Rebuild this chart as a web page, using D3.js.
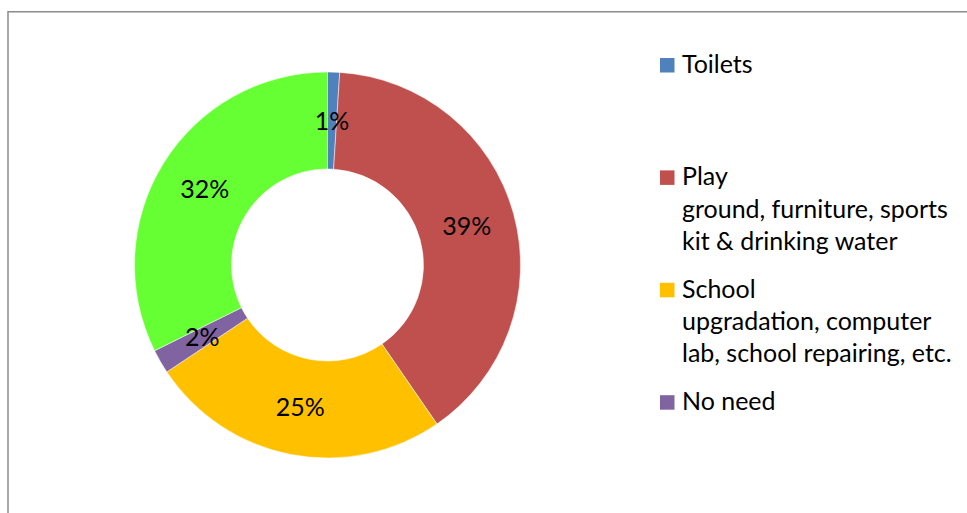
<!DOCTYPE html>
<html>
<head>
<meta charset="utf-8">
<script src="https://cdn.jsdelivr.net/npm/d3@7"></script>
<style>
  html, body { margin: 0; padding: 0; background: #fff; overflow: hidden; }
  text { font-family: Lato, "Open Sans", sans-serif; fill: #000; }
</style>
</head>
<body>
<svg id="chart" width="967" height="513"></svg>
<script>
// Survey responses: what the school needs most
const categories = [
  "Toilets",
  "Play ground, furniture, sports kit & drinking water",
  "School upgradation, computer lab, school repairing, etc.",
  "No need",
  "Others"
];
const legendLines = [
  ["Toilets"],
  ["Play", "ground, furniture, sports", "kit & drinking water"],
  ["School", "upgradation, computer", "lab, school repairing, etc."],
  ["No need"],
  ["Others"]
];
const values = [1, 39, 25, 2, 32];
const colors = ["#4F81BD", "#C0504D", "#FFC000", "#8064A2", "#66FF33"];

const W = 967, H = 513;
const svg = d3.select("#chart");

// chart area frame
svg.append("rect")
  .attr("x", 8).attr("y", 11.75)
  .attr("width", W + 20).attr("height", H + 20)
  .attr("fill", "none")
  .attr("stroke", "#8c8c8c")
  .attr("stroke-width", 1.5);

// pick a font size so the widest legend line has the intended width
const probe = svg.append("text").attr("font-size", 100).text("ground, furniture, sports");
const fontSize = 100 * 266 / probe.node().getComputedTextLength();
probe.remove();

const data = categories.map((c, i) => ({ name: c, value: values[i], color: colors[i], lines: legendLines[i] }));

const cx = 327.5, cy = 265, outerR = 193, innerR = 96;
const pie = d3.pie().value(d => d.value).sort(null);
const arc = d3.arc().innerRadius(innerR).outerRadius(outerR);
const arcs = pie(data);

const g = svg.append("g").attr("transform", `translate(${cx},${cy})`);
g.selectAll("path.slice")
  .data(arcs)
  .join("path")
  .attr("class", "slice")
  .attr("d", arc)
  .attr("fill", d => d.data.color)
  .attr("stroke", "#fff")
  .attr("stroke-width", 0.5);

g.selectAll("text.pct")
  .data(arcs)
  .join("text")
  .attr("class", "pct")
  .attr("transform", d => `translate(${arc.centroid(d)})`)
  .attr("text-anchor", "middle")
  .attr("dy", "0.36em")
  .attr("font-size", fontSize)
  .text(d => d.data.value + "%");

// legend: only the entries that fit inside the chart area are shown
const legX = 660, textX = 682, firstBase = 73, step = 112.4, lineH = 32.3, sw = 14.5;
const legendData = data.filter((d, i) => firstBase + i * step + (d.lines.length - 1) * lineH + 8 < H);
const leg = svg.append("g").selectAll("g")
  .data(legendData)
  .join("g")
  .attr("transform", (d, i) => `translate(0,${firstBase + i * step})`);
leg.append("rect")
  .attr("x", legX).attr("y", -sw - 0.5)
  .attr("width", sw).attr("height", sw)
  .attr("fill", d => d.color);
leg.append("text")
  .attr("font-size", fontSize)
  .selectAll("tspan")
  .data(d => d.lines)
  .join("tspan")
  .attr("x", textX)
  .attr("y", (l, j) => j * lineH)
  .text(l => l);
</script>
</body>
</html>
